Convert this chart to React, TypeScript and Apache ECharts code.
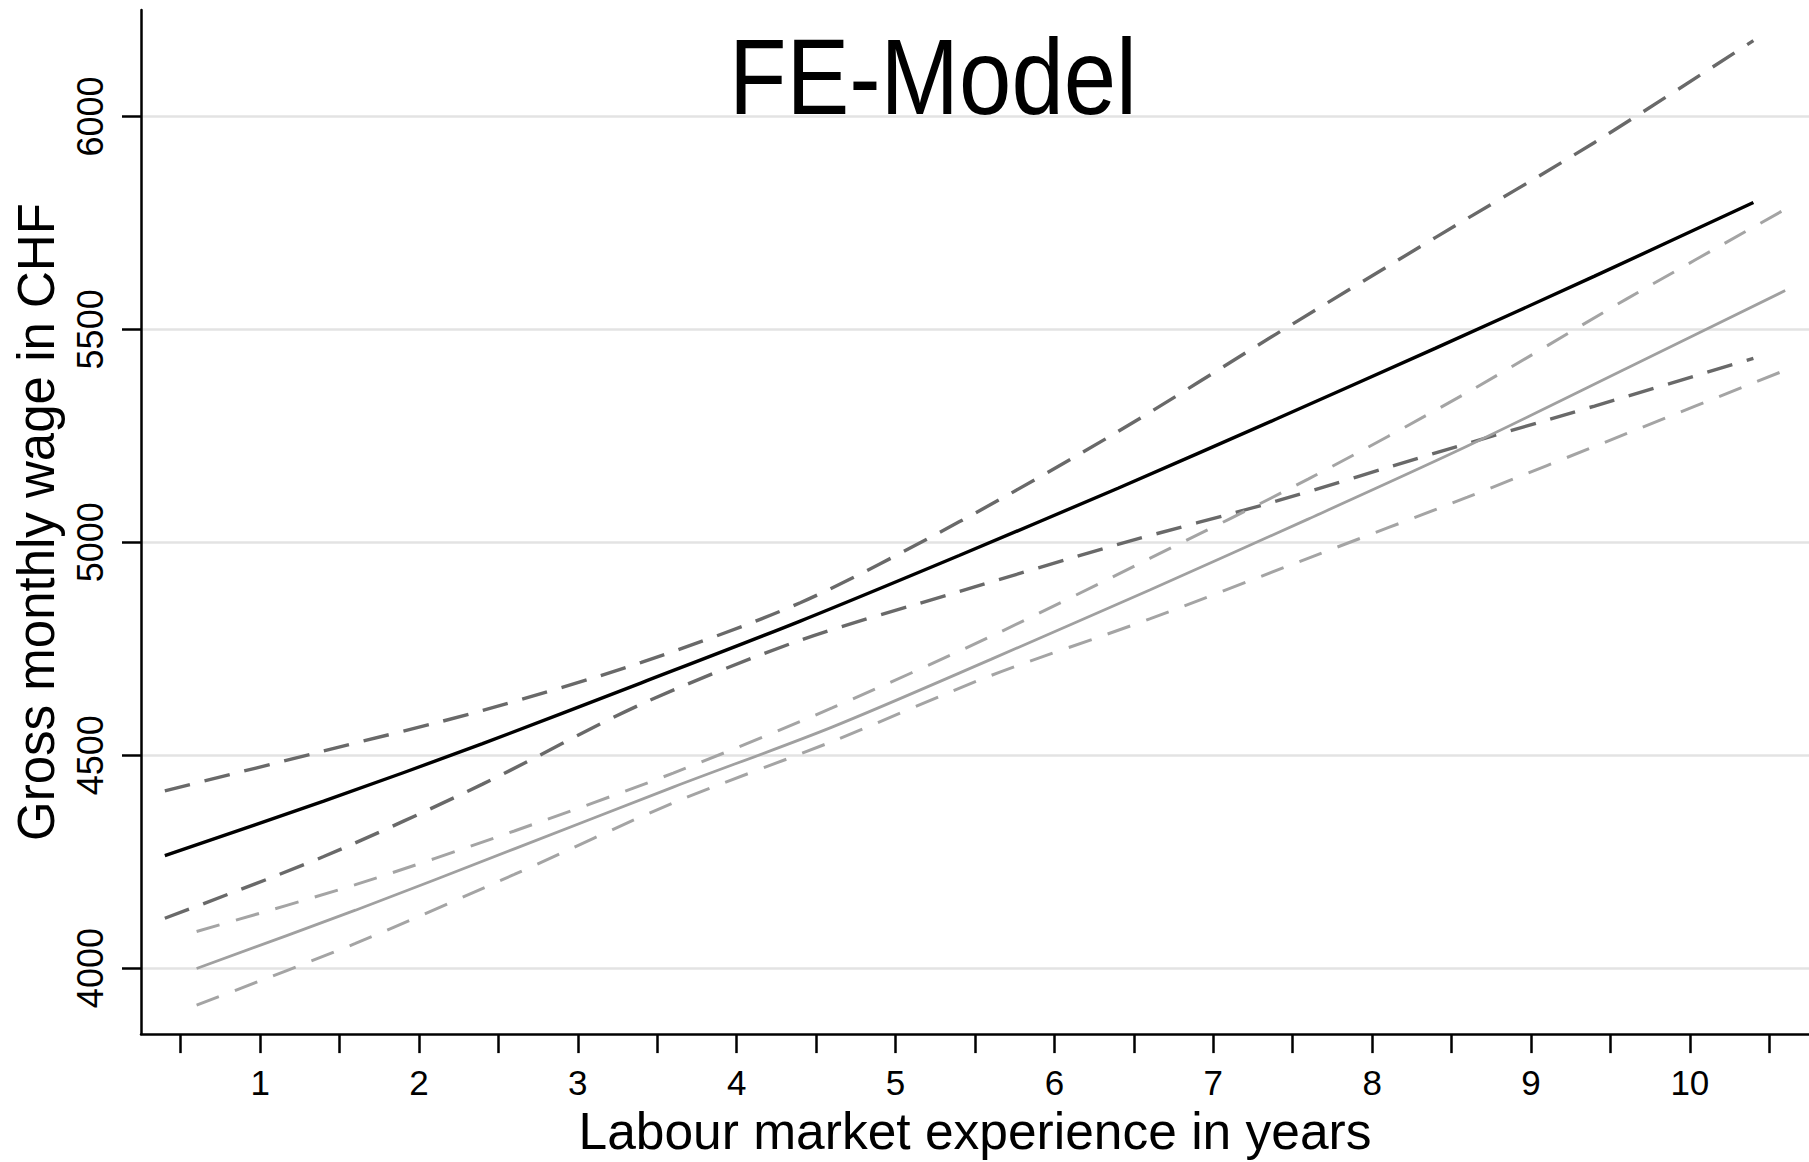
import React, { useEffect, useRef } from "react";
import * as echarts from "echarts";

// Experience positions (estimates of the two groups are drawn slightly offset)
const xDark = [0.4, 1.4, 2.4, 3.4, 4.4, 5.4, 6.4, 7.4, 8.4, 9.4, 10.4];
const xLight = [0.6, 1.6, 2.6, 3.6, 4.6, 5.6, 6.6, 7.6, 8.6, 9.6, 10.6];

// Group A (black line, dark dashed CI)
const fitA = [4264, 4392, 4527, 4670, 4815, 4969, 5127, 5290, 5456, 5625, 5798];
const hiA = [4416, 4510, 4605, 4718, 4858, 5048, 5260, 5490, 5716, 5939, 6178];
const loA = [4117, 4262, 4432, 4620, 4770, 4884, 4995, 5097, 5210, 5320, 5432];

// Group B (grey line, light dashed CI)
const fitB = [3999, 4136, 4280, 4425, 4566, 4725, 4888, 5055, 5226, 5408, 5591];
const hiB = [4086, 4196, 4322, 4458, 4611, 4779, 4962, 5149, 5352, 5571, 5782];
const loB = [3913, 4058, 4220, 4388, 4532, 4687, 4820, 4963, 5106, 5255, 5404];

const xTickValues = [0.5, 1, 1.5, 2, 2.5, 3, 3.5, 4, 4.5, 5, 5.5, 6, 6.5, 7, 7.5, 8, 8.5, 9, 9.5, 10, 10.5];
const xLabelValues = [1, 2, 3, 4, 5, 6, 7, 8, 9, 10];
const yTickValues = [4000, 4500, 5000, 5500, 6000];

const titleText = "FE-Model";
const xTitle = "Labour market experience in years";
const yTitle = "Gross monthly wage in CHF";

const FONT = "'Liberation Sans', Arial, Helvetica, sans-serif";

function pairs(xs: number[], ys: number[]) {
  return xs.map((x, i) => [x, ys[i]]);
}

export default function App() {
  const ref = useRef<HTMLDivElement>(null);

  useEffect(() => {
    if (!ref.current) return;
    const chart = echarts.init(ref.current, undefined, { renderer: "svg" });
    const darkDash = { color: "#696969", width: 3.4, type: [26, 15] as number[] };
    const lightDash = { color: "#a4a4a4", width: 3, type: [24, 17] as number[] };
    const common = { type: "line", showSymbol: false, symbol: "none", silent: true, smooth: 0.3 };
    chart.setOption({
      animation: false,
      backgroundColor: "#ffffff",
      grid: { left: 141, right: 0, top: 10, bottom: 127, containLabel: false },
      xAxis: {
        type: "value",
        min: 0.25,
        max: 10.75,
        name: xTitle,
        nameLocation: "middle",
        nameGap: 70,
        nameTextStyle: { fontSize: 51.5, color: "#000", fontFamily: FONT },
        axisLine: { show: true, onZero: false, lineStyle: { color: "#000", width: 2.5 } },
        axisTick: { show: true, length: 19, lineStyle: { color: "#000", width: 2.5 }, customValues: xTickValues },
        axisLabel: {
          customValues: xLabelValues,
          fontSize: 35,
          color: "#000",
          margin: 31,
          fontFamily: FONT,
          formatter: (v: number) => String(v),
        },
        splitLine: { show: false },
      },
      yAxis: {
        type: "value",
        min: 3845,
        max: 6250,
        name: yTitle,
        nameLocation: "middle",
        nameRotate: 90,
        nameGap: 79,
        nameTextStyle: { fontSize: 51, color: "#000", fontFamily: FONT },
        axisLine: { show: true, onZero: false, lineStyle: { color: "#000", width: 2.5 } },
        axisTick: { show: true, length: 19, lineStyle: { color: "#000", width: 2.5 }, customValues: yTickValues },
        axisLabel: {
          customValues: yTickValues,
          rotate: 90,
          fontSize: 36,
          color: "#000",
          margin: 33,
          fontFamily: FONT,
          formatter: (v: number) => String(v),
        },
        splitLine: { show: true, lineStyle: { color: "#e3e3e3", width: 2.5 } },
      },
      graphic: [
        {
          type: "text",
          x: 933,
          y: 77,
          scaleX: 0.88,
          style: {
            text: titleText,
            fontSize: 107,
            fontFamily: FONT,
            fill: "#000",
            align: "center",
            verticalAlign: "middle",
          },
          z: 100,
        },
      ],
      series: [
        { ...common, name: "A upper", data: pairs(xDark, hiA), lineStyle: darkDash, z: 2 },
        { ...common, name: "A lower", data: pairs(xDark, loA), lineStyle: darkDash, z: 2 },
        { ...common, name: "B upper", data: pairs(xLight, hiB), lineStyle: lightDash, z: 2 },
        { ...common, name: "B lower", data: pairs(xLight, loB), lineStyle: lightDash, z: 2 },
        { ...common, name: "B", data: pairs(xLight, fitB), lineStyle: { color: "#a0a0a0", width: 2.8 }, z: 3 },
        { ...common, name: "A", data: pairs(xDark, fitA), lineStyle: { color: "#000", width: 3.4 }, z: 4 },
      ],
    });
    return () => chart.dispose();
  }, []);

  return (
    <div
      ref={ref}
      style={{ position: "absolute", left: 0, top: 0, width: 1809, height: 1162, background: "#fff" }}
    />
  );
}
